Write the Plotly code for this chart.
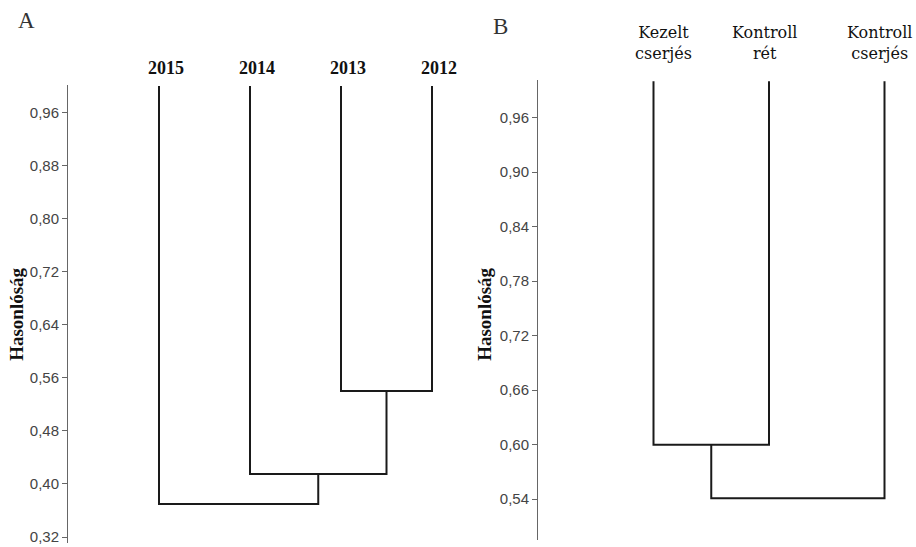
import plotly.graph_objects as go

# ---------------- data ----------------
A_leaves = ["2015", "2014", "2013", "2012"]
# merges: (left node, right node, height); nodes: leaf index 0.. or "cN" cluster N
A_merges = [(2, 3, 0.54), (1, "c0", 0.415), (0, "c1", 0.37)]
A_ticks = [0.32, 0.40, 0.48, 0.56, 0.64, 0.72, 0.80, 0.88, 0.96]
A_ticktext = ["0,32", "0,40", "0,48", "0,56", "0,64", "0,72", "0,80", "0,88", "0,96"]

B_leaves = ["Kezelt<br>cserjés", "Kontroll<br>rét", "Kontroll<br>cserjés"]
B_merges = [(0, 1, 0.60), ("c0", 2, 0.541)]
B_ticks = [0.54, 0.60, 0.66, 0.72, 0.78, 0.84, 0.90, 0.96]
B_ticktext = ["0,54", "0,60", "0,66", "0,72", "0,78", "0,84", "0,90", "0,96"]

leaf_height = 1.0
axis_title = "Hasonlóság"

W, H = 916, 547


def px_x(p):
    return p / W


def px_y(p):
    return 1 - p / H


def dendro_lines(n_leaves, merges):
    nodes = {}
    for i in range(n_leaves):
        nodes[i] = (i + 1, leaf_height)
    xs, ys = [], []
    for k, (l, r, h) in enumerate(merges):
        xl, hl = nodes[l]
        xr, hr = nodes[r]
        xs += [xl, xl, xr, xr, None]
        ys += [hl, h, h, hr, None]
        nodes["c%d" % k] = ((xl + xr) / 2, h)
    return xs, ys


fig = go.Figure()

xa, ya = dendro_lines(len(A_leaves), A_merges)
fig.add_trace(go.Scatter(x=xa, y=ya, mode="lines", line=dict(color="#1a1a1a", width=2),
                         xaxis="x", yaxis="y", showlegend=False, hoverinfo="skip"))
xb, yb = dendro_lines(len(B_leaves), B_merges)
fig.add_trace(go.Scatter(x=xb, y=yb, mode="lines", line=dict(color="#1a1a1a", width=2),
                         xaxis="x2", yaxis="y2", showlegend=False, hoverinfo="skip"))

tickfont = dict(family="Liberation Sans", size=15, color="#444")
yax_common = dict(showgrid=False, zeroline=False, showline=True, linecolor="#666", linewidth=1,
                  ticks="outside", ticklen=5, tickwidth=1, tickcolor="#666", tickfont=tickfont,
                  ticklabeloverflow="allow", fixedrange=True)

fig.update_layout(
    width=W, height=H,
    margin=dict(l=0, r=0, t=0, b=0),
    paper_bgcolor="white", plot_bgcolor="white",
    xaxis=dict(domain=[px_x(68), px_x(68 + 4.3 * 91)], range=[0, 4.3], visible=False),
    yaxis=dict(domain=[px_y(545), px_y(85)], range=[0.311, 1.002],
               tickvals=A_ticks, ticktext=A_ticktext, **yax_common),
    xaxis2=dict(domain=[px_x(538), px_x(538 + 3.2 * 115.5)], range=[0, 3.2], visible=False),
    yaxis2=dict(domain=[px_y(542), px_y(80)], range=[0.495, 1.0017], anchor="x2",
                tickvals=B_ticks, ticktext=B_ticktext, **yax_common),
)

serif = "Liberation Serif"
ann = []
# leaf labels A
for i, lab in enumerate(A_leaves):
    ann.append(dict(text=lab, x=i + 1, xref="x", y=px_y(68), yref="paper", xshift=7,
                    showarrow=False, xanchor="center", yanchor="middle",
                    font=dict(family=serif, size=18, color="#111", weight="bold")))
# leaf labels B
b_shift = [10, -5, -5]
for i, lab in enumerate(B_leaves):
    ann.append(dict(text=lab, x=i + 1, xref="x2", y=px_y(43), yref="paper",
                    xshift=b_shift[i], showarrow=False, xanchor="center", yanchor="middle",
                    font=dict(family="DejaVu Serif", size=16, color="#111")))
# axis titles
for xp in (17, 485):
    ann.append(dict(text=axis_title, x=px_x(xp), xref="paper", y=px_y(316), yref="paper",
                    textangle=-90, showarrow=False, xanchor="center", yanchor="middle",
                    font=dict(family=serif, size=19, color="#111", weight="bold")))
# panel letters
ann.append(dict(text="A", x=px_x(26), y=px_y(21), xref="paper", yref="paper", showarrow=False,
                xanchor="center", yanchor="middle", font=dict(family=serif, size=23, color="#333")))
ann.append(dict(text="B", x=px_x(500), y=px_y(27), xref="paper", yref="paper", showarrow=False,
                xanchor="center", yanchor="middle", font=dict(family=serif, size=23, color="#333")))
fig.update_layout(annotations=ann)

fig.write_html("out.html")
